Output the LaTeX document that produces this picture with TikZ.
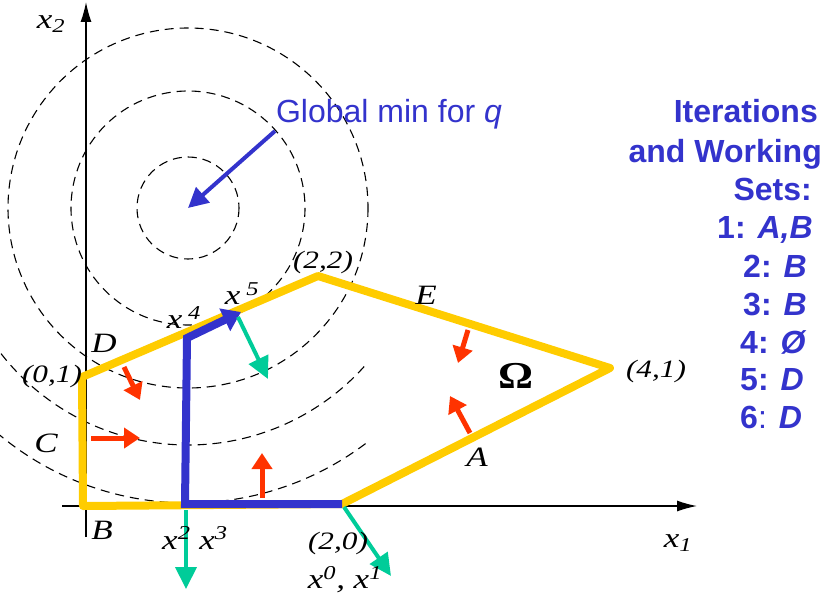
\documentclass[tikz,border=0pt]{standalone}
\usepackage{fontspec}
\setmainfont{Liberation Serif}
\newfontfamily\arialfont{Liberation Sans}
\usetikzlibrary{arrows.meta}
\definecolor{regionyellow}{HTML}{FFCC00}
\definecolor{iterblue}{HTML}{3333CC}
\definecolor{gradgreen}{HTML}{00CC99}
\definecolor{normalred}{HTML}{FF3300}
\newcommand{\widelab}[1]{\scalebox{1.25}[1]{#1}}
\tikzset{
  levelset/.style={line width=1.1pt,dash pattern=on 9pt off 6pt},
  axisline/.style={-{Latex[length=20pt,width=11pt]},line width=1.3pt},
  feasedge/.style={draw=regionyellow,line width=8pt,line join=round},
  iterpath/.style={draw=iterblue,line width=8pt,-{Triangle[length=18pt,width=24pt]}},
  normalarrow/.style={draw=normalred,line width=5pt,-{Triangle[length=16pt,width=20pt]}},
  gradarrow/.style={draw=gradgreen,line width=4pt,-{Triangle[length=22pt,width=21pt]}},
  minarrow/.style={draw=iterblue,line width=4pt,-{Triangle[length=20pt,width=20pt]}},
  letterlabel/.style={font=\fontsize{28}{28}\selectfont\itshape,inner sep=0pt},
  ptlabel/.style={font=\fontsize{25}{25}\selectfont\itshape,inner sep=0pt},
  headtext/.style={text=iterblue,font=\arialfont\bfseries\fontsize{32}{38}\selectfont,inner sep=0pt}
}
\begin{document}
\begin{tikzpicture}[x=1pt,y=-1pt]
  \useasboundingbox (0,0) rectangle (826,610);
  % level sets of q
  \coordinate (qmin) at (188,208);
  \foreach \r in {51,117,180}
    \draw[levelset] (qmin) circle (\r);
  \draw[levelset] (qmin) ++(42:237) arc[start angle=42,end angle=143,radius=237];
  \draw[levelset] (qmin) ++(53:295) arc[start angle=53,end angle=130,radius=295];
  % axes
  \coordinate (xaxs) at (62,506);
  \coordinate (xaxe) at (697,506);
  \coordinate (yaxs) at (86,537);
  \coordinate (yaxe) at (86,2);
  \draw[axisline] (xaxs) -- (xaxe);
  \draw[axisline] (yaxs) -- (yaxe);
  \node[letterlabel] (lx2) at (51,24) {\widelab{x\textsubscript{2}}};
  \node[letterlabel] (lx1) at (678,543) {\widelab{x\textsubscript{1}}};
  % feasible region
  \coordinate (v00) at (83,506);
  \coordinate (v01) at (82,377);
  \coordinate (v22) at (318,276);
  \coordinate (v41) at (610,368);
  \coordinate (v20) at (342,504);
  \draw[feasedge] (v20) -- (v00) -- (v01) -- (v22) -- (v41) -- cycle;
  % iterates
  \coordinate (it23) at (185,504);
  \coordinate (it4) at (187,338);
  \coordinate (it5) at (241,312);
  \draw[iterpath] (v20) -- (it23) -- (it4) -- (it5);
  % gradients
  \coordinate (g5s) at (238,317);
  \coordinate (g5e) at (268,379);
  \coordinate (g23s) at (186,510);
  \coordinate (g23e) at (186,589);
  \coordinate (g20s) at (344,507);
  \coordinate (g20e) at (391,576);
  \draw[gradarrow] (g5s) -- (g5e);
  \draw[gradarrow] (g23s) -- (g23e);
  \draw[gradarrow] (g20s) -- (g20e);
  % constraint normals
  \coordinate (nDs) at (124,367);
  \coordinate (nDe) at (140,400);
  \coordinate (nCs) at (91,438);
  \coordinate (nCe) at (140,438);
  \coordinate (nBs) at (262,498);
  \coordinate (nBe) at (262,453);
  \coordinate (nEs) at (468,330);
  \coordinate (nEe) at (458,363);
  \coordinate (nAs) at (470,433);
  \coordinate (nAe) at (450,396);
  \draw[normalarrow] (nDs) -- (nDe);
  \draw[normalarrow] (nCs) -- (nCe);
  \draw[normalarrow] (nBs) -- (nBe);
  \draw[normalarrow] (nEs) -- (nEe);
  \draw[normalarrow] (nAs) -- (nAe);
  % labels
  \node[letterlabel] (lD) at (104,343) {\widelab{D}};
  \node[letterlabel] (lC) at (46,443) {\widelab{C}};
  \node[letterlabel] (lB) at (102,530) {\widelab{B}};
  \node[letterlabel] (lE) at (426,295) {\widelab{E}};
  \node[letterlabel] (lA) at (477,457) {\widelab{A}};
  \node[inner sep=0pt,font=\fontsize{38}{38}\selectfont\bfseries] (lOmega) at (516,376) {\scalebox{1.15}[1]{Ω}};
  \node[ptlabel] (p01) at (52,376) {\widelab{(0,1)}};
  \node[ptlabel] (p22) at (323,262) {\widelab{(2,2)}};
  \node[ptlabel] (p41) at (656,371) {\widelab{(4,1)}};
  \node[ptlabel] (p20) at (338,543) {\widelab{(2,0)}};
  \node[letterlabel] (lx01) at (345,580) {\widelab{x\textsuperscript{0}, x\textsuperscript{1}}};
  \node[letterlabel] (lx23) at (195,538) {\widelab{x\textsuperscript{2} x\textsuperscript{3}}};
  \node[letterlabel] (lx4) at (184,318) {\widelab{x\,\textsuperscript{4}}};
  \node[letterlabel] (lx5) at (242,294) {\widelab{x\,\textsuperscript{5}}};
  % global minimum
  \node[text=iterblue,inner sep=0pt,font=\arialfont\fontsize{32}{32}\selectfont] (gmin) at (389,114) {Global min for \textit{q}};
  \coordinate (gmins) at (275,131);
  \draw[minarrow] (gmins) -- (qmin);
  % working sets
  \node[headtext,anchor=base east] (h1) at (818,122) {Iterations};
  \node[headtext,anchor=base east] (h2) at (822,162) {and Working};
  \node[headtext,anchor=base east] (h3) at (812,200) {Sets:};
  \node[headtext,anchor=base west] (w1) at (717,238) {1: \textit{A,B}};
  \node[headtext,anchor=base west] (w2) at (743,277) {2: \textit{B}};
  \node[headtext,anchor=base west] (w3) at (743,315) {3: \textit{B}};
  \node[headtext,anchor=base west] (w4) at (740,353) {4: \textit{Ø}};
  \node[headtext,anchor=base west] (w5) at (740,390) {5: \textit{D}};
  \node[headtext,anchor=base west] (w6) at (740,428) {6{\mdseries:} \textit{D}};
\end{tikzpicture}
\end{document}
